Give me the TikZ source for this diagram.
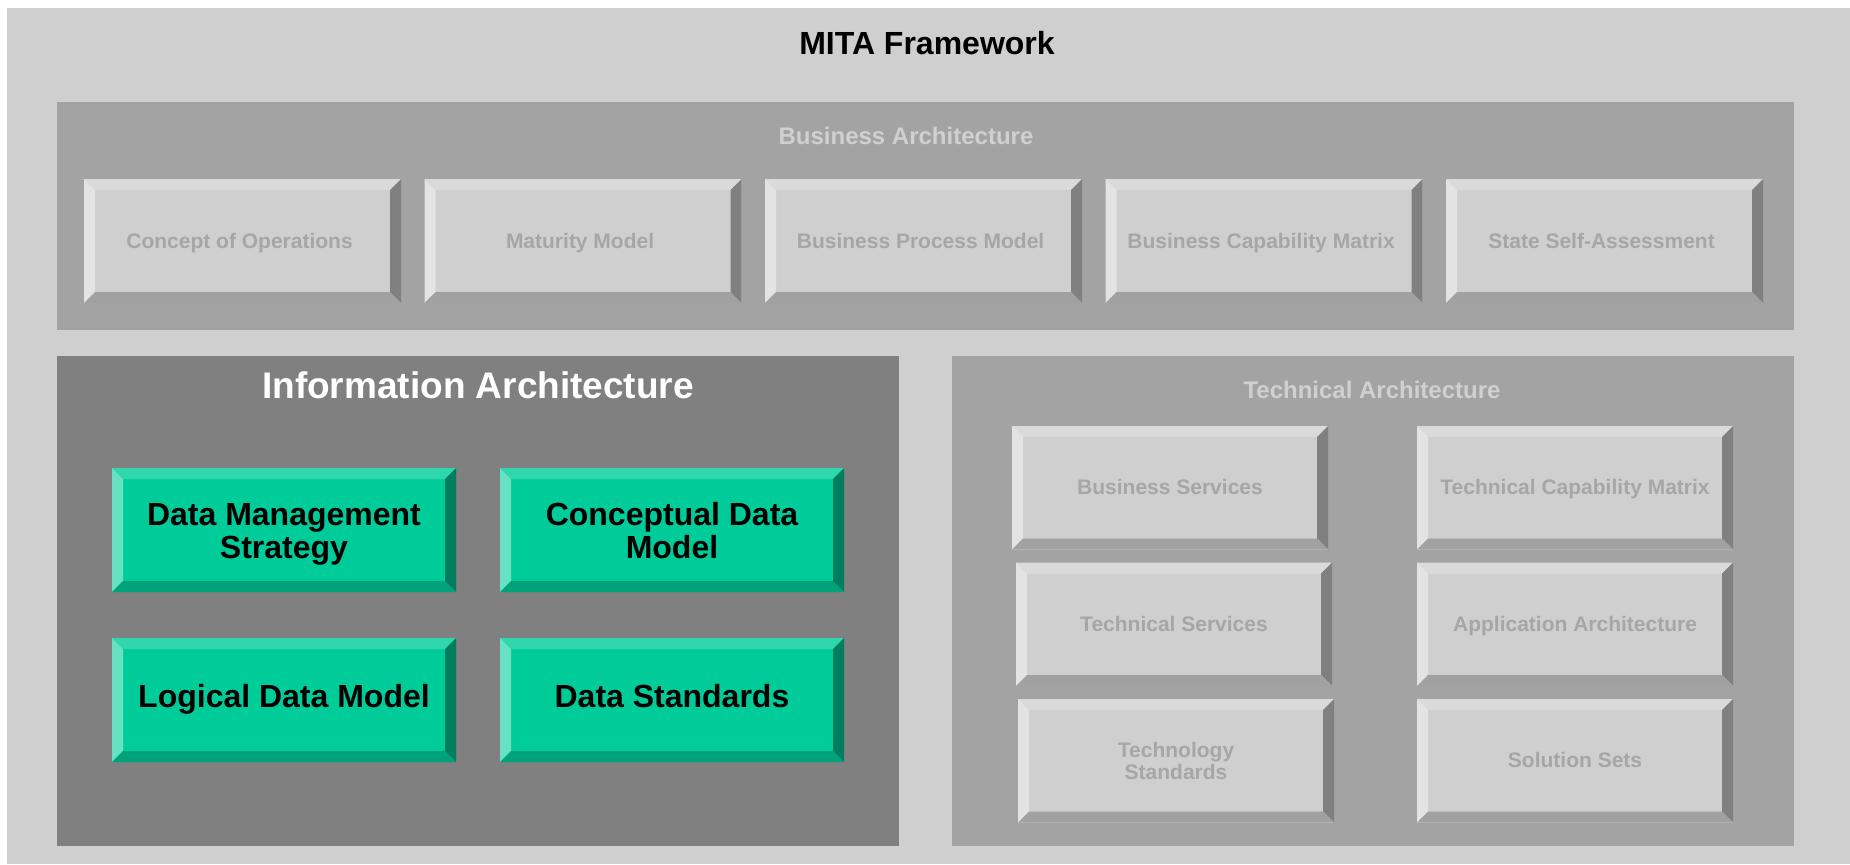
\documentclass[tikz,border=0pt]{standalone}
\usepackage{fontspec}
\setmainfont{Liberation Sans}
\usetikzlibrary{matrix,positioning}

\definecolor{frame}{HTML}{CFCFCF}
\definecolor{midpanel}{HTML}{A3A3A3}
\definecolor{darkpanel}{HTML}{808080}
\definecolor{gface}{HTML}{CFCFCF}
\definecolor{gtop}{HTML}{DADADA}
\definecolor{gleft}{HTML}{E3E3E3}
\definecolor{gright}{HTML}{808080}
\definecolor{gbot}{HTML}{A1A1A1}
\definecolor{gtext}{HTML}{A6A6A6}
\definecolor{ptext}{HTML}{D0D0D0}
\definecolor{tface}{HTML}{00CC99}
\definecolor{ttop}{HTML}{30D6AC}
\definecolor{tleft}{HTML}{66E2C3}
\definecolor{tright}{HTML}{007D5E}
\definecolor{tbot}{HTML}{00A27A}

\newcommand\bevw{5.5pt}

\tikzset{
  bevel/.style n args={5}{fill=#1,
    path picture={
      \coordinate (bnw) at (path picture bounding box.north west);
      \coordinate (bne) at (path picture bounding box.north east);
      \coordinate (bsw) at (path picture bounding box.south west);
      \coordinate (bse) at (path picture bounding box.south east);
      \fill[#2] (bnw) -- (bne) -- ([shift={(-\bevw,-\bevw)}]bne) -- ([shift={(\bevw,-\bevw)}]bnw) -- cycle;
      \fill[#3] (bnw) -- (bsw) -- ([shift={(\bevw,\bevw)}]bsw) -- ([shift={(\bevw,-\bevw)}]bnw) -- cycle;
      \fill[#4] (bne) -- (bse) -- ([shift={(-\bevw,\bevw)}]bse) -- ([shift={(-\bevw,-\bevw)}]bne) -- cycle;
      \fill[#5] (bsw) -- (bse) -- ([shift={(-\bevw,\bevw)}]bse) -- ([shift={(\bevw,\bevw)}]bsw) -- cycle;
    }},
  graybox/.style={bevel={gface}{gtop}{gleft}{gright}{gbot},
    minimum width=158.5pt, minimum height=62pt, inner sep=0pt, outer sep=0pt,
    align=center, text=gtext, font=\bfseries\fontsize{10.5}{11}\selectfont,
    text height=0.72em, text depth=0pt},
  techbox/.style={graybox, minimum width=158pt, minimum height=61.75pt},
  tealbox/.style={bevel={tface}{ttop}{tleft}{tright}{tbot},
    minimum width=172pt, minimum height=62pt, inner sep=0pt, outer sep=0pt,
    align=center, text=black, font=\bfseries\fontsize{16}{16.5}\selectfont,
    text height=0.72em, text depth=0pt},
  twolines/.style={text height=#1},
  panel/.style={anchor=north west, inner sep=0pt, outer sep=0pt},
  ptitle/.style={text=ptext, font=\bfseries\fontsize{12}{14}\selectfont}
}

\begin{document}
\begin{tikzpicture}[x=0.5pt, y=-0.5pt]
\useasboundingbox (0,0) rectangle (1850,864);

% outer frame and title
\node[panel, fill=frame, minimum width=921.5pt, minimum height=428pt] (mita) at (7,8) {};
\node[font=\bfseries\fontsize{16}{18}\selectfont] (mitatitle) at (927,43) {MITA Framework};

% business architecture
\node[panel, fill=midpanel, minimum width=868.5pt, minimum height=114pt] (bizpanel) at (57,102) {};
\node[ptitle] (biztitle) at (906,135.5) {Business Architecture};
\matrix[matrix of nodes, column sep=11.75pt, inner sep=0pt,
  nodes={graybox, anchor=center}] (bizrow) at (923.5,241) {
  Concept of Operations & Maturity Model & Business Process Model & Business Capability Matrix & State Self-Assessment \\
};

% information architecture
\node[panel, fill=darkpanel, minimum width=421pt, minimum height=245pt] (infopanel) at (57,356) {};
\node[text=white, font=\bfseries\fontsize{18.5}{20}\selectfont] (infotitle) at (478,385) {Information Architecture};
\node[tealbox, twolines=28pt] (dms) at (284,530) {Data Management\\Strategy};
\node[tealbox, twolines=28pt, right=22pt of dms] (cdm) {Conceptual Data\\Model};
\node[tealbox, below=23pt of dms] (ldm) {Logical Data Model};
\node[tealbox, right=22pt of ldm] (dstd) {Data Standards};

% technical architecture
\node[panel, fill=midpanel, minimum width=421pt, minimum height=245pt] (techpanel) at (952,356) {};
\node[ptitle] (techtitle) at (1372,390) {Technical Architecture};
\node[techbox] (bsvc) at (1170,487.75) {Business Services};
\node[techbox, right=44.5pt of bsvc] (tcm) {Technical Capability Matrix};
\node[techbox, below=6.5pt of bsvc, xshift=2pt] (tsvc) {Technical Services};
\node[techbox, twolines=18.5pt, below=6.5pt of tsvc, xshift=1pt] (tstd) {Technology\\Standards};
\node[techbox, below=6.5pt of tcm] (appa) {Application Architecture};
\node[techbox, below=6.5pt of appa] (solset) {Solution Sets};

\end{tikzpicture}
\end{document}
